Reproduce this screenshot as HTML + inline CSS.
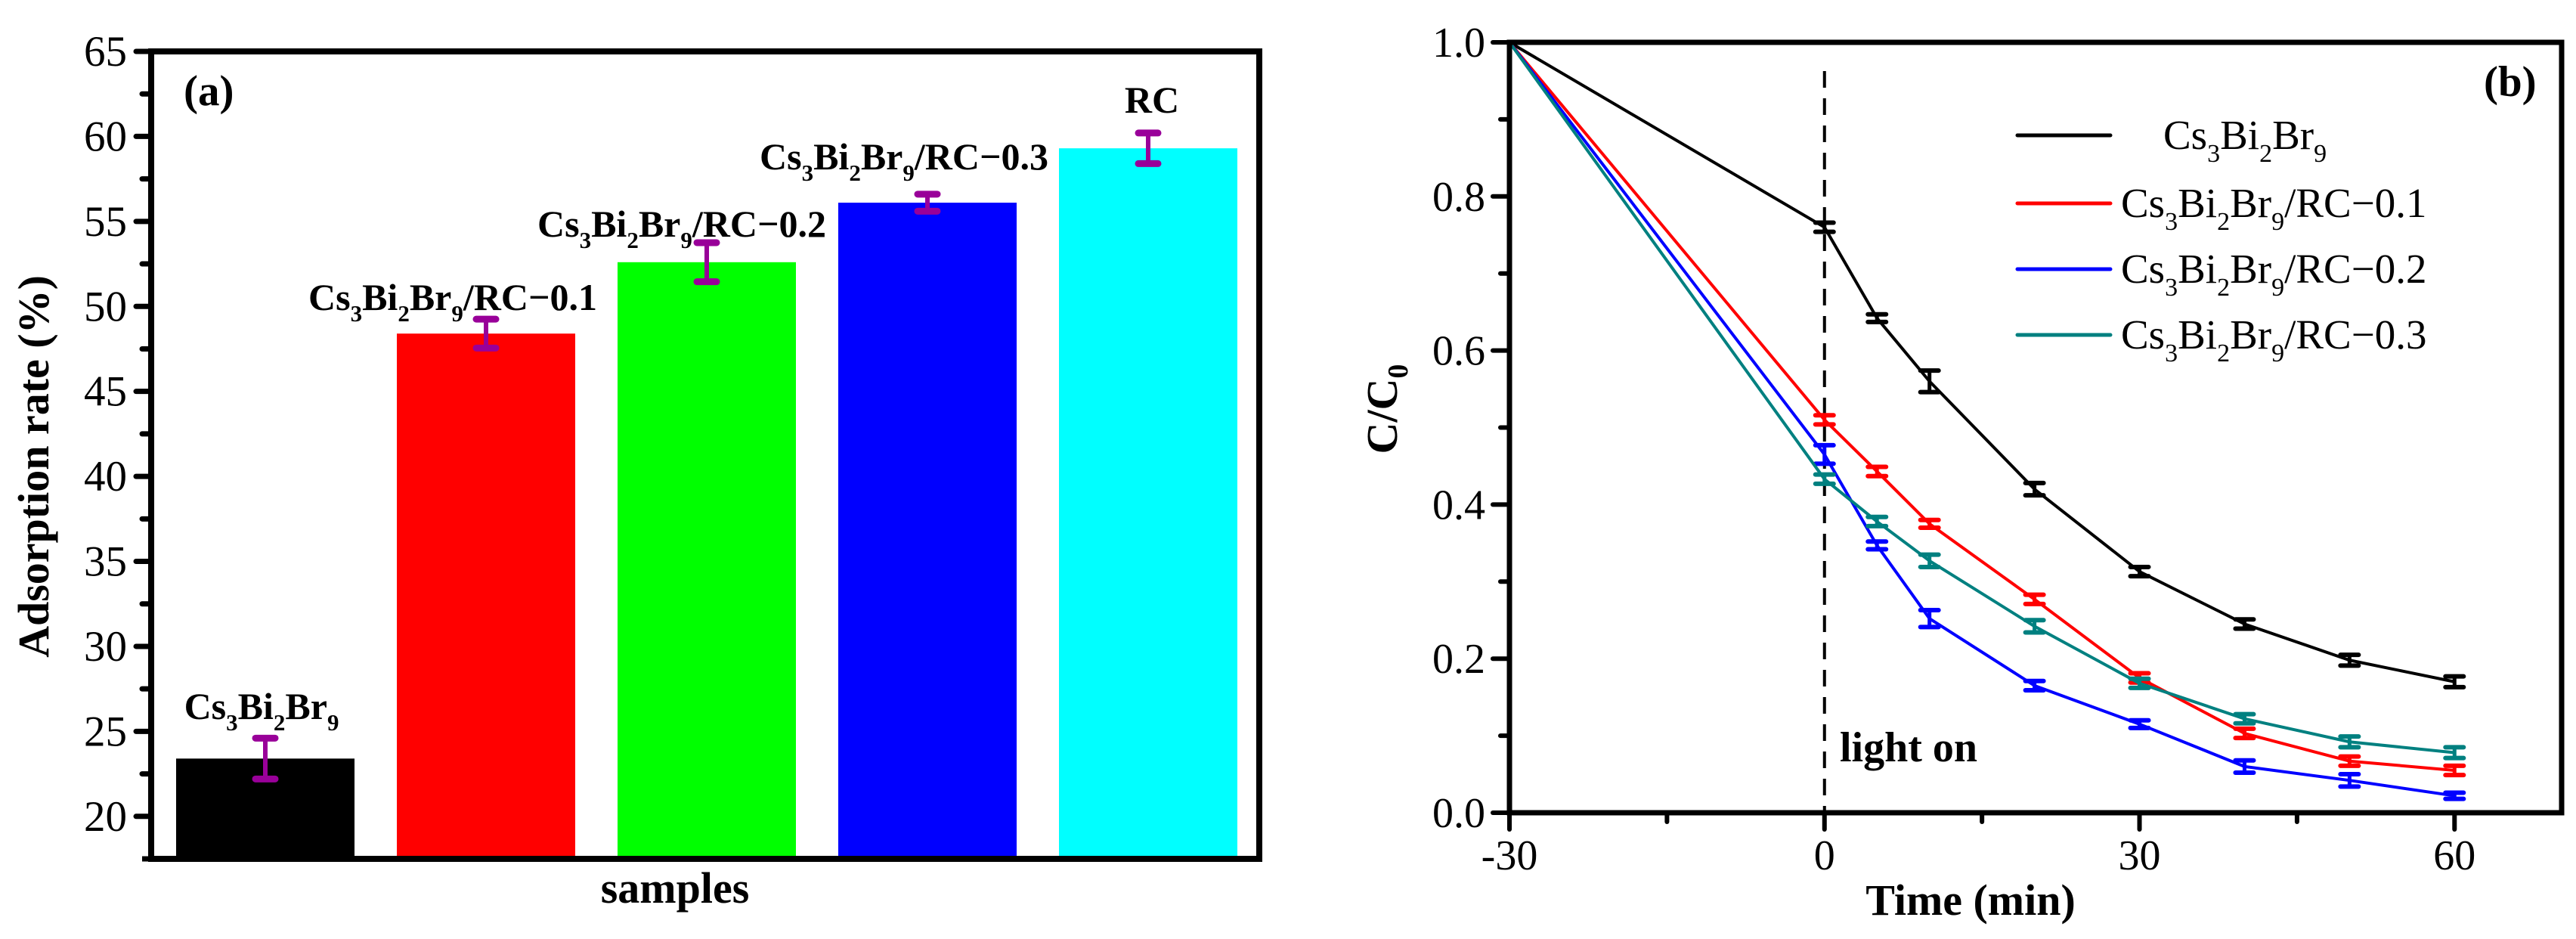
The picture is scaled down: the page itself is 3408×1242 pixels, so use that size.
<!DOCTYPE html>
<html><head><meta charset="utf-8"><style>
html,body{margin:0;padding:0;background:#fff;width:3408px;height:1242px;overflow:hidden}
svg{display:block}
text{font-family:"Liberation Serif","Times New Roman",serif;fill:#000}
.b{font-weight:bold}
</style></head><body>
<svg id="svg" width="3408" height="1242" viewBox="0 0 3408 1242" xmlns="http://www.w3.org/2000/svg">
<g id="pa"></g>
<g id="pb"></g>
</svg>
<script>
// ---------- Panel (a) data ----------
const aCategories = ["Cs3Bi2Br9", "Cs3Bi2Br9/RC-0.1", "Cs3Bi2Br9/RC-0.2", "Cs3Bi2Br9/RC-0.3", "RC"];
const aValues = [23.4, 48.4, 52.6, 56.1, 59.3];
const aErrors = [1.2, 0.85, 1.15, 0.5, 0.9];
const aColors = ["#000000", "#ff0000", "#00ff00", "#0000ff", "#00ffff"];
const aTicks = [20, 25, 30, 35, 40, 45, 50, 55, 60, 65];

// ---------- Panel (b) data ----------
const bTimes = [-30, 0, 5, 10, 20, 30, 40, 50, 60];
const bSeriesNames = ["Cs3Bi2Br9", "Cs3Bi2Br9/RC-0.1", "Cs3Bi2Br9/RC-0.2", "Cs3Bi2Br9/RC-0.3"];
const bBlack = [1, 0.76, 0.642, 0.56, 0.42, 0.313, 0.245, 0.198, 0.17];
const bRed = [1, 0.51, 0.443, 0.375, 0.277, 0.175, 0.103, 0.067, 0.055];
const bBlue = [1, 0.465, 0.347, 0.252, 0.165, 0.115, 0.06, 0.042, 0.022];
const bTeal = [1, 0.433, 0.378, 0.327, 0.242, 0.168, 0.122, 0.092, 0.078];
const bErrBlack = [0, 0.006, 0.005, 0.014, 0.008, 0.006, 0.006, 0.007, 0.007];
const bErrRed = [0, 0.006, 0.006, 0.005, 0.006, 0.006, 0.006, 0.006, 0.006];
const bErrBlue = [0, 0.012, 0.005, 0.011, 0.006, 0.005, 0.008, 0.008, 0.004];
const bErrTeal = [0, 0.006, 0.006, 0.008, 0.008, 0.006, 0.006, 0.007, 0.007];
const bXTicks = [-30, 0, 30, 60];
const bYTicks = [0.0, 0.2, 0.4, 0.6, 0.8, 1.0];

const NS = "http://www.w3.org/2000/svg";
function mk(parent, tag, attrs){
  const e = document.createElementNS(NS, tag);
  for (const k in attrs) e.setAttribute(k, attrs[k]);
  parent.appendChild(e);
  return e;
}
function formula(parent, x, y, size, bold, anchor, suffix){
  const t = mk(parent, "text", {x:x, y:y, "font-size":size, "text-anchor":anchor});
  if (bold) t.setAttribute("font-weight","bold");
  const parts = [["Cs",0],["3",1],["Bi",0],["2",1],["Br",0],["9",1]];
  parts.forEach(p=>{
    const s = document.createElementNS(NS,"tspan");
    s.textContent = p[0];
    if (p[1]) { s.setAttribute("font-size", Math.round(size*0.62)); s.setAttribute("dy", Math.round(size*0.3)); }
    else if (t.childNodes.length) { s.setAttribute("dy", -Math.round(size*0.3)); }
    t.appendChild(s);
  });
  if (suffix){
    const s = document.createElementNS(NS,"tspan");
    s.textContent = suffix; s.setAttribute("dy", -Math.round(size*0.3));
    t.appendChild(s);
  }
  return t;
}

// ===== Panel A =====
const pa = document.getElementById("pa");
const aL=200, aR=1666, aT=68, aB=1136, aYmin=17.5, aYmax=65;
const ay = v => aB - (v - aYmin) / (aYmax - aYmin) * (aB - aT);
const aPitch = 292, aFirst = 351, aBarW = 236;
const ax = i => aFirst + i * aPitch;

aValues.forEach((v,i)=>{
  const r = mk(pa,"rect",{x:ax(i)-aBarW/2, y:ay(v), width:aBarW, height:aB-ay(v), fill:aColors[i]});
  
  
});
aValues.forEach((v,i)=>{
  const g = mk(pa,"g",{stroke:"#990099","stroke-width":6});
  
  
  const hi = ay(v+aErrors[i]), lo = ay(v-aErrors[i]), c = ax(i);
  mk(g,"line",{x1:c,x2:c,y1:hi,y2:lo});
  mk(g,"line",{x1:c-13,x2:c+13,y1:hi,y2:hi,"stroke-width":9,"stroke-linecap":"round"});
  mk(g,"line",{x1:c-13,x2:c+13,y1:lo,y2:lo,"stroke-width":9,"stroke-linecap":"round"});
});
// frame
const fa = mk(pa,"rect",{x:aL,y:aT,width:aR-aL,height:aB-aT,fill:"none",stroke:"#000","stroke-width":8});
 
// ticks
aTicks.forEach(t=>{
  mk(pa,"line",{x1:aL-20,x2:aL,y1:ay(t),y2:ay(t),stroke:"#000","stroke-width":7,"stroke-linecap":"round"});
  const lb = mk(pa,"text",{x:aL-32,y:ay(t)+19,"font-size":57,"text-anchor":"end"});
  lb.textContent = t;
   
  if (t+2.5 <= aYmax) mk(pa,"line",{x1:aL-12,x2:aL,y1:ay(t+2.5),y2:ay(t+2.5),stroke:"#000","stroke-width":7,"stroke-linecap":"round"});
});
mk(pa,"line",{x1:aL-12,x2:aL,y1:ay(17.5),y2:ay(17.5),stroke:"#000","stroke-width":7});
// labels
const aLabelPos = [[346,951,"middle"],[408,410,"start"],[711,313,"start"],[1005,224,"start"]];
aLabelPos.forEach((p,i)=>{
  const t = formula(pa,p[0],p[1],50,true,p[2], i? "/RC\u22120."+i : "");
   
});
const rc = mk(pa,"text",{x:1524,y:149,"font-size":50,"font-weight":"bold","text-anchor":"middle"});
rc.textContent="RC";  
const la = mk(pa,"text",{x:243,y:139,"font-size":57,"font-weight":"bold"}); la.textContent="(a)";
 
const xs = mk(pa,"text",{x:893,y:1194,"font-size":58,"font-weight":"bold","text-anchor":"middle"}); xs.textContent="samples";
 
const ya = mk(pa,"text",{x:0,y:0,"font-size":58,"font-weight":"bold","text-anchor":"middle",transform:"translate(64,617) rotate(-90)"});
ya.textContent="Adsorption rate (%)";
 

// ===== Panel B =====
const pb = document.getElementById("pb");
const bL=1997, bR=3389, bT=56, bB=1075, bXmin=-30, bXmax=70.2, bYmin=0, bYmax=1;
const bx = v => bL + (v-bXmin)/(bXmax-bXmin)*(bR-bL);
const by = v => bB - (v-bYmin)/(bYmax-bYmin)*(bB-bT);

// dashed light-on line
const dl = mk(pb,"line",{x1:bx(0),x2:bx(0),y1:94,y2:bB,stroke:"#000","stroke-width":4,"stroke-dasharray":"22 14"});
 

const series = [[bBlack,bErrBlack,"#000000"],[bRed,bErrRed,"#ff0000"],[bBlue,bErrBlue,"#0000ff"],[bTeal,bErrTeal,"#008080"]];
series.forEach((s,si)=>{
  const g = mk(pb,"g",{});
   
  const pts = bTimes.map((t,i)=>bx(t)+","+by(s[0][i])).join(" ");
  mk(g,"polyline",{points:pts,fill:"none",stroke:s[2],"stroke-width":4,"stroke-linejoin":"round"});
  bTimes.forEach((t,i)=>{
    if (!s[1][i]) return;
    const c=bx(t), hi=by(s[0][i]+s[1][i]), lo=by(s[0][i]-s[1][i]);
    const eg = mk(g,"g",{stroke:s[2],"stroke-width":5});
     
    mk(eg,"line",{x1:c,x2:c,y1:hi,y2:lo});
    mk(eg,"line",{x1:c-12,x2:c+12,y1:hi,y2:hi,"stroke-width":6,"stroke-linecap":"round"});
    mk(eg,"line",{x1:c-12,x2:c+12,y1:lo,y2:lo,"stroke-width":6,"stroke-linecap":"round"});
  });
});
const fb = mk(pb,"rect",{x:bL,y:bT,width:bR-bL,height:bB-bT,fill:"none",stroke:"#000","stroke-width":7});
 
bYTicks.forEach(t=>{
  mk(pb,"line",{x1:bL-22,x2:bL,y1:by(t),y2:by(t),stroke:"#000","stroke-width":6,"stroke-linecap":"round"});
  if (t<1) mk(pb,"line",{x1:bL-12,x2:bL,y1:by(t+0.1),y2:by(t+0.1),stroke:"#000","stroke-width":6,"stroke-linecap":"round"});
  const lb = mk(pb,"text",{x:bL-32,y:by(t)+19,"font-size":56,"text-anchor":"end"});
  lb.textContent = t.toFixed(1);
   
});
bXTicks.forEach(t=>{
  mk(pb,"line",{x1:bx(t),x2:bx(t),y1:bB,y2:bB+22,stroke:"#000","stroke-width":6,"stroke-linecap":"round"});
  if (t<60) mk(pb,"line",{x1:bx(t+15),x2:bx(t+15),y1:bB,y2:bB+12,stroke:"#000","stroke-width":6,"stroke-linecap":"round"});
  const lb = mk(pb,"text",{x:bx(t),y:1150,"font-size":56,"text-anchor":"middle"});
  lb.textContent = t;
   
});
// legend
const legY = [179, 269, 356, 443];
series.forEach((s,i)=>{
  const g = mk(pb,"g",{});
   
  mk(g,"line",{x1:2669,x2:2792,y1:legY[i],y2:legY[i],stroke:s[2],"stroke-width":5,"stroke-linecap":"round"});
  formula(g, i?2806:2862, legY[i]+18, 55, false, "start", i? "/RC\u22120."+i : "");
});
const lb2 = mk(pb,"text",{x:3286,y:127,"font-size":57,"font-weight":"bold"}); lb2.textContent="(b)";
 
const lo = mk(pb,"text",{x:2434,y:1007,"font-size":56,"font-weight":"bold"}); lo.textContent="light on";
 
const xt = mk(pb,"text",{x:2607,y:1210,"font-size":58,"font-weight":"bold","text-anchor":"middle"}); xt.textContent="Time (min)";
 
const yt = mk(pb,"text",{x:0,y:0,"font-size":58,"font-weight":"bold","text-anchor":"middle",transform:"translate(1848,541) rotate(-90)"});
yt.innerHTML = 'C/C<tspan font-size="38" dy="14">0</tspan>';
 
</script>
</body></html>
